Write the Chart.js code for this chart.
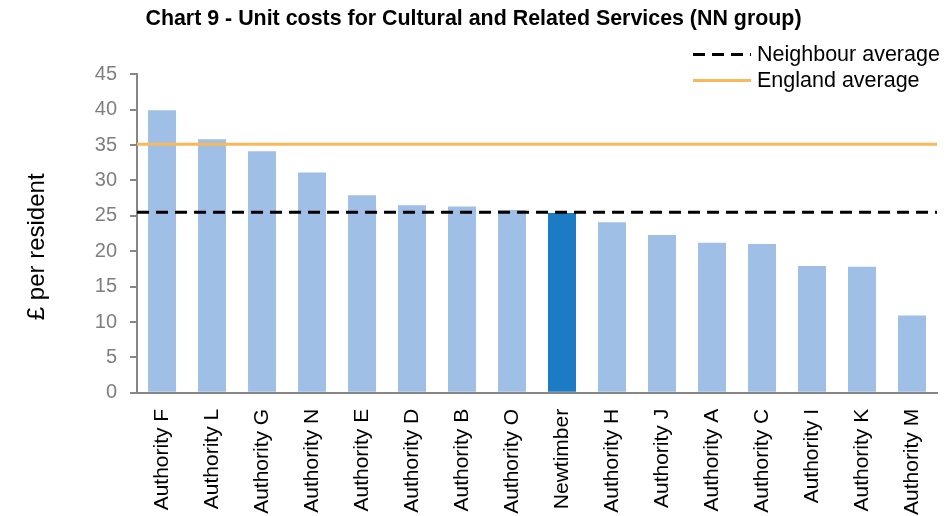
<!DOCTYPE html>
<html>
<head>
<meta charset="utf-8">
<script src="https://cdn.jsdelivr.net/npm/chart.js@4/dist/chart.umd.min.js"></script>
<style>
  html, body { margin: 0; padding: 0; background: #fff; }
  #wrap { position: relative; width: 945px; height: 516px; }
  #legend { position: absolute; left: 693px; top: 41px; font-family: "Liberation Sans", Arial, sans-serif; font-size: 21.5px; color: #000; line-height: 26px; }
  .item { display: flex; align-items: center; height: 26px; }
  .sym { width: 58px; height: 3px; margin-right: 6px; }
  .dash { background: repeating-linear-gradient(to right, #000 0 12px, transparent 12px 19px); }
  .solid { background: #F9B95A; }
</style>
</head>
<body>
<div id="wrap">
  <canvas id="c" width="945" height="516"></canvas>
  <div id="legend">
    <div class="item"><div class="sym dash"></div><span>Neighbour average</span></div>
    <div class="item"><div class="sym solid"></div><span>England average</span></div>
  </div>
</div>
<script>
const categories = ["Authority F","Authority L","Authority G","Authority N","Authority E","Authority D","Authority B","Authority O","Newtimber","Authority H","Authority J","Authority A","Authority C","Authority I","Authority K","Authority M"];
const unitCosts = [39.9, 35.8, 34.1, 31.1, 27.9, 26.5, 26.3, 25.8, 25.4, 24.1, 22.3, 21.2, 21.0, 17.9, 17.8, 10.9];
const neighbourAverage = 25.5;
const englandAverage = 35.1;
const highlight = "Newtimber";
const yTicks = [0, 5, 10, 15, 20, 25, 30, 35, 40, 45];

const barColors = categories.map(c => c === highlight ? "#1B7BC4" : "#A0BFE6");
const FONT = "'Liberation Sans', Arial, sans-serif";

new Chart(document.getElementById("c"), {
  type: "bar",
  data: {
    labels: categories,
    datasets: [
      {
        label: "Unit cost",
        data: unitCosts,
        backgroundColor: barColors,
        barPercentage: 0.56,
        categoryPercentage: 1.0,
        grouped: false,
        xAxisID: "x",
        order: 2
      },
      {
        type: "line",
        label: "Neighbour average",
        data: [{x: 0, y: neighbourAverage}, {x: 1, y: neighbourAverage}],
        borderColor: "#000",
        borderWidth: 3,
        borderDash: [12, 7],
        pointRadius: 0,
        xAxisID: "x2",
        order: 1
      },
      {
        type: "line",
        label: "England average",
        data: [{x: 0, y: englandAverage}, {x: 1, y: englandAverage}],
        borderColor: "#F9B95A",
        borderWidth: 3,
        pointRadius: 0,
        xAxisID: "x2",
        order: 1
      }
    ]
  },
  options: {
    responsive: false,
    animation: false,
    layout: { padding: { left: 10, right: 8, top: 0, bottom: -15 } },
    plugins: {
      legend: { display: false },
      tooltip: { enabled: false },
      title: {
        display: true,
        text: "Chart 9 - Unit costs for Cultural and Related Services (NN group)",
        font: { family: FONT, size: 21.4, weight: "bold" },
        color: "#000",
        padding: { top: 6, bottom: 42.5 }
      }
    },
    scales: {
      x: {
        type: "category",
        offset: true,
        grid: { display: false, drawTicks: false },
        border: { display: true, color: "#868686", width: 2 },
        afterFit: (s) => { s.paddingRight = 0; s.paddingLeft = 0; },
        ticks: {
          color: "#000",
          font: { family: FONT, size: 21 },
          minRotation: 90,
          maxRotation: 90,
          autoSkip: false,
          padding: 16
        }
      },
      x2: {
        type: "linear",
        display: false,
        offset: false,
        min: 0,
        max: 1
      },
      y: {
        min: 0,
        max: 45,
        afterBuildTicks: (axis) => { axis.ticks = yTicks.map(v => ({ value: v })); },
        grid: { display: true, drawOnChartArea: false, drawTicks: true, tickLength: 7, color: "#868686", lineWidth: 2 },
        border: { display: true, color: "#868686", width: 2 },
        ticks: {
          color: "#7F7F7F",
          font: { family: FONT, size: 20 },
          padding: 13
        },
        title: {
          display: true,
          text: "£ per resident    ",
          color: "#000",
          font: { family: FONT, size: 24 },
          padding: { top: 13, bottom: 30 }
        }
      }
    }
  }
});
</script>
</body>
</html>
